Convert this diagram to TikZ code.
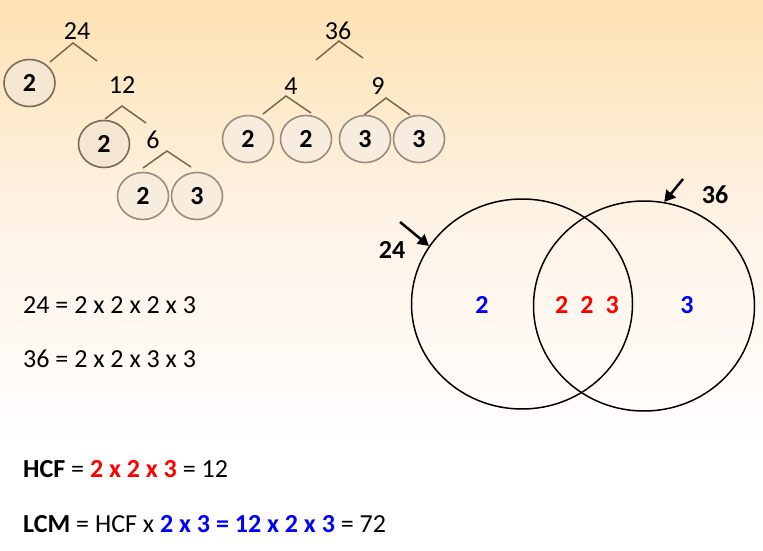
\documentclass[tikz,border=0pt]{standalone}
\usepackage{fontspec}
\setmainfont{Carlito}
\usetikzlibrary{shapes.geometric,arrows.meta}
\definecolor{bgtop}{HTML}{FDE2B2}
\definecolor{bgmid}{HTML}{FEF3E6}
\definecolor{branch}{HTML}{7A664E}
\definecolor{cfillA}{HTML}{F5E6D1}
\definecolor{cdrawA}{HTML}{7C6B55}
\definecolor{cfillB}{HTML}{F7ECDD}
\definecolor{cdrawB}{HTML}{9A8D7D}
\definecolor{vblue}{HTML}{0000FF}
\definecolor{vred}{HTML}{FF0000}
\begin{document}
\begin{tikzpicture}[x=1pt,y=-1pt,
  tnum/.style={font=\fontsize{26}{30}\selectfont, inner sep=0pt},
  fcircA/.style={ellipse, draw=cdrawA, fill=cfillA, line width=1.6pt, minimum width=51pt, minimum height=47pt, inner sep=0pt, font=\fontsize{26}{30}\selectfont\bfseries},
  fcircB/.style={fcircA, draw=cdrawB, fill=cfillB},
  br/.style={draw=branch, line width=1.5pt},
  venn/.style={ellipse, draw=black, line width=1.5pt, minimum width=221pt, minimum height=210pt, inner sep=0pt},
  vnum/.style={font=\fontsize{26}{30}\selectfont\bfseries, inner sep=0pt},
  arr/.style={line width=2.5pt, -{Triangle[length=11pt,width=12pt]}},
  eq/.style={font=\fontsize{26}{30}\selectfont, inner sep=0pt, anchor=base west}]
\useasboundingbox (0,0) rectangle (763,551);
\shade[top color=bgtop, bottom color=white, middle color=bgmid] (0,0) rectangle (763,450);
\fill[white] (0,449.5) rectangle (763,551);

% tree 24
\node[tnum] (t24) at (77,31) {24};
\draw[br] (50,62) -- (73,43) -- (97,61);
\node[fcircA] (c24a) at (29.5,83) {2};
\node[tnum] (t12) at (122,85) {12};
\draw[br] (105,119) -- (122,106) -- (146,123);
\node[fcircA] (c12a) at (104,144) {2};
\node[tnum] (t6) at (153,140) {6};
\draw[br] (143,168) -- (167,151) -- (191,167);
\node[fcircB] (c6a) at (143,196) {2};
\node[fcircB] (c6b) at (197,196) {3};

% tree 36
\node[tnum] (t36) at (338,31) {36};
\draw[br] (316,60) -- (339,41) -- (363,58);
\node[tnum] (t4) at (291,86) {4};
\node[tnum] (t9) at (378,86) {9};
\draw[br] (263,114) -- (286,96) -- (311,113);
\draw[br] (364,115) -- (386,98) -- (410,115);
\node[fcircB] (c4a) at (248,139) {2};
\node[fcircB] (c4b) at (306,139) {2};
\node[fcircB] (c9a) at (365,139) {3};
\node[fcircB] (c9b) at (419,139) {3};

% venn
\node[venn] (A) at (522,304) {};
\node[venn] (B) at (644,306) {};
\coordinate (a1) at (400,222);
\coordinate (a2) at (683,179);
\draw[arr] (a1) -- (A.148);
\draw[arr] (a2) -- (B.79);
\node[vnum] (l24) at (392,250) {24};
\node[vnum] (l36) at (715,195) {36};
\node[vnum, text=vblue] (v1) at (482,305) {2};
\node[vnum, text=vred] (v2) at (587,305) {2\hspace{12pt}2\hspace{12pt}3};
\node[vnum, text=vblue] (v3) at (687,305) {3};

% equations
\node[eq] (e1) at (23,313) {24 = 2 x 2 x 2 x 3};
\node[eq] (e2) at (23,367) {36 = 2 x 2 x 3 x 3};
\node[eq] (hcf) at (23,477) {\textbf{HCF} = \textcolor{vred}{\textbf{2 x 2 x 3}} = 12};
\node[eq] (lcm) at (23,532) {\textbf{LCM} = HCF x \textcolor{vblue}{\textbf{2 x 3 = 12 x 2 x 3}} = 72};
\end{tikzpicture}
\end{document}
